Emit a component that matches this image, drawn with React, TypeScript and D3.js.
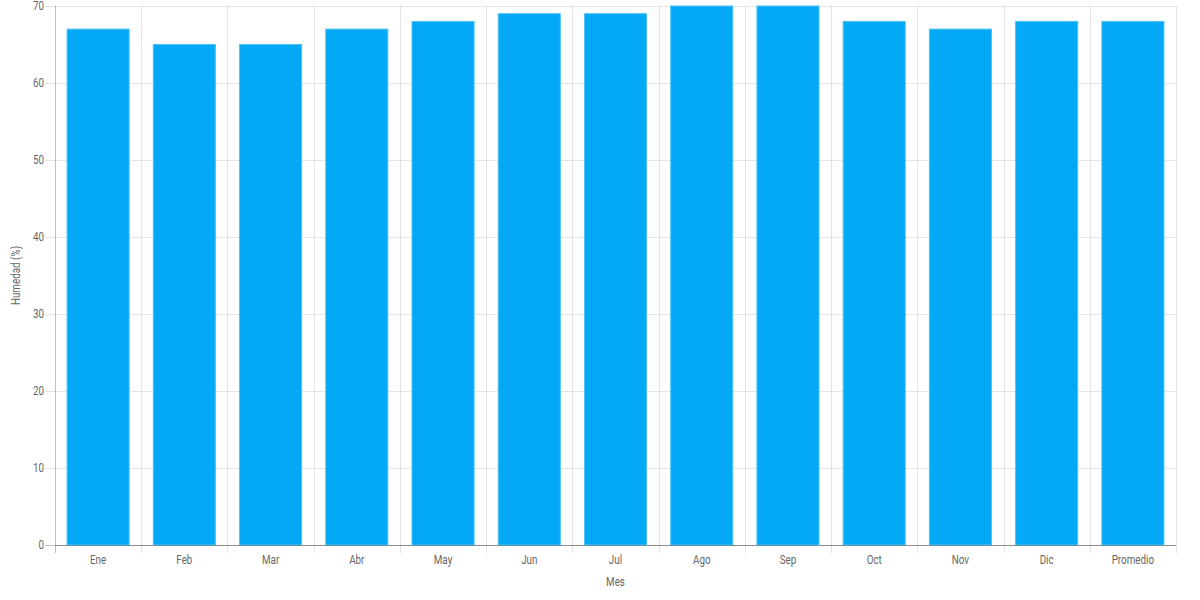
import React, { useEffect, useRef } from 'react';
import * as d3 from 'd3';

const months = ['Ene', 'Feb', 'Mar', 'Abr', 'May', 'Jun', 'Jul', 'Ago', 'Sep', 'Oct', 'Nov', 'Dic', 'Promedio'];
const humidity = [67, 65, 65, 67, 68, 69, 69, 70, 70, 68, 67, 68, 68];
const yTicks = [0, 10, 20, 30, 40, 50, 60, 70];

const width = 1200;
const height = 600;
const font = 'Roboto, sans-serif';
// the original labels use a narrow face, so squeeze Roboto a bit
const squeeze = 0.82;

const App: React.FC = () => {
  const svgRef = useRef<SVGSVGElement>(null);

  useEffect(() => {
    if (!svgRef.current) return;
    const margin = { top: 6, right: 24, bottom: 55, left: 55 };
    const innerWidth = width - margin.left - margin.right;
    const innerHeight = height - margin.top - margin.bottom;

    const svg = d3.select(svgRef.current);
    svg.selectAll('*').remove();

    const g = svg.append('g').attr('transform', `translate(${margin.left},${margin.top})`);

    const x = d3.scaleBand().domain(months).range([0, innerWidth]).padding(0);
    const y = d3.scaleLinear().domain([0, 70]).range([innerHeight, 0]);

    // horizontal grid
    g.selectAll('line.hgrid')
      .data(yTicks)
      .enter()
      .append('line')
      .attr('x1', -10)
      .attr('x2', innerWidth)
      .attr('y1', (d) => y(d) + 0.5)
      .attr('y2', (d) => y(d) + 0.5)
      .attr('stroke', (d) => (d === 0 ? 'rgba(0,0,0,0.25)' : 'rgba(0,0,0,0.1)'));

    // vertical grid
    const vlines = months.map((m) => x(m) || 0).concat([innerWidth]);
    g.selectAll('line.vgrid')
      .data(vlines)
      .enter()
      .append('line')
      .attr('x1', (d) => Math.round(d) + 0.5)
      .attr('x2', (d) => Math.round(d) + 0.5)
      .attr('y1', 0)
      .attr('y2', innerHeight + 8)
      .attr('stroke', (d, i) => (i === 0 ? 'rgba(0,0,0,0.25)' : 'rgba(0,0,0,0.1)'));

    // bars
    const barW = x.bandwidth() * 0.72;
    g.selectAll('rect.bar')
      .data(humidity)
      .enter()
      .append('rect')
      .attr('x', (d, i) => (x(months[i]) || 0) + (x.bandwidth() - barW) / 2)
      .attr('y', (d) => y(d))
      .attr('width', barW)
      .attr('height', (d) => innerHeight - y(d))
      .attr('fill', '#03a9f4')
      .attr('stroke', '#4fc3f7')
      .attr('stroke-width', 1);

    // axis line
    g.append('line')
      .attr('x1', 0)
      .attr('x2', innerWidth)
      .attr('y1', innerHeight + 0.5)
      .attr('y2', innerHeight + 0.5)
      .attr('stroke', 'rgba(0,0,0,0.25)');

    const label = (sel: d3.Selection<SVGTextElement, any, any, any>) =>
      sel
        .attr('dy', '0.35em')
        .attr('font-family', font)
        .attr('font-size', 12)
        .attr('fill', '#666');

    // y tick labels
    g.selectAll('text.ytick')
      .data(yTicks)
      .enter()
      .append('text')
      .attr('transform', (d) => `translate(-11,${y(d)}) scale(${squeeze},1)`)
      .attr('text-anchor', 'end')
      .call(label)
      .text((d) => d);

    // x tick labels
    g.selectAll('text.xtick')
      .data(months)
      .enter()
      .append('text')
      .attr(
        'transform',
        (d) => `translate(${(x(d) || 0) + x.bandwidth() / 2},${innerHeight + 15}) scale(${squeeze},1)`
      )
      .attr('text-anchor', 'middle')
      .call(label)
      .text((d) => d);

    // axis titles
    g.append('text')
      .attr('transform', `translate(${innerWidth / 2},${innerHeight + 37}) scale(${squeeze},1)`)
      .attr('text-anchor', 'middle')
      .call(label)
      .text('Mes');

    g.append('text')
      .attr('transform', `translate(${16 - margin.left},${innerHeight / 2}) rotate(-90) scale(${squeeze},1)`)
      .attr('text-anchor', 'middle')
      .call(label)
      .text('Humedad (%)');
  }, []);

  return (
    <svg
      ref={svgRef}
      width={width}
      height={height}
      style={{ position: 'fixed', top: 0, left: 0, background: '#fff' }}
    />
  );
};

export default App;
